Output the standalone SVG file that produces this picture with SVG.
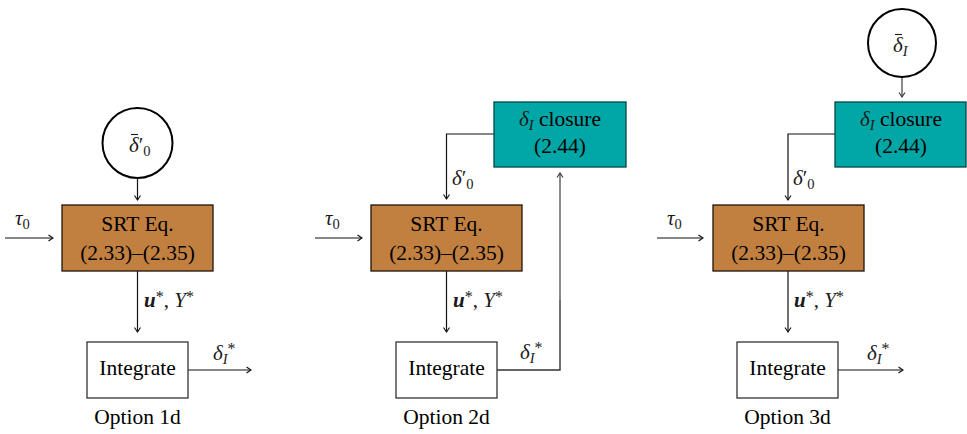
<svg xmlns="http://www.w3.org/2000/svg" width="967" height="434" viewBox="0 0 967 434">
  <style>
    .txt { font-family: "Liberation Serif", "Times New Roman", serif; font-size: 21.5px; fill: #000; }
    .mi { font-family: "Liberation Serif", "Times New Roman", serif; font-style: italic; font-size: 21px; fill: #1a1a1a; }
    .sub { font-size: 14.5px; }
    .star { font-size: 16px; font-style: normal; }
    .up { font-style: normal; }
    .bi { font-weight: bold; font-style: italic; }
    .srt { fill: #C28040; stroke: #1e1408; stroke-width: 1.3; }
    .clo { fill: #00A7A6; stroke: #004848; stroke-width: 1.3; }
    .int { fill: #fff; stroke: #333; stroke-width: 1.3; }
    .src { fill: #fff; stroke: #000; stroke-width: 2; }
    .bar { stroke: #1a1a1a; stroke-width: 1.1; }
    .ln { fill: none; stroke: #111; stroke-width: 1.2; marker-end: url(#ah); }
    .lk { fill: none; stroke: #333; stroke-width: 1.4; }
    .lga { fill: none; stroke: #6e6e6e; stroke-width: 1.6; marker-end: url(#ahg); }
  </style>
  <defs>
    <marker id="ah" viewBox="0 0 8 8" refX="6" refY="4" markerWidth="8" markerHeight="8" markerUnits="userSpaceOnUse" orient="auto">
      <path d="M1.5,1 L6,4 L1.5,7" fill="none" stroke="#111" stroke-width="1.1"/>
    </marker>
    <marker id="ahg" viewBox="0 0 8 8" refX="6" refY="4" markerWidth="8" markerHeight="8" markerUnits="userSpaceOnUse" orient="auto">
      <path d="M1.5,1 L6,4 L1.5,7" fill="none" stroke="#333" stroke-width="1.1"/>
    </marker>
  </defs>

  <!-- connectors -->
  <g id="connectors">
    <!-- option 1d -->
    <line class="ln" x1="137.5" y1="178" x2="137.5" y2="200"/>
    <line class="ln" x1="5" y1="238" x2="53" y2="238"/>
    <line class="ln" x1="137.5" y1="271" x2="137.5" y2="332"/>
    <line class="ln" x1="188" y1="370" x2="251" y2="370"/>
    <!-- option 2d -->
    <polyline class="ln" points="494,134 446.5,134 446.5,199"/>
    <line class="ln" x1="315" y1="238" x2="362" y2="238"/>
    <line class="ln" x1="446.5" y1="271" x2="446.5" y2="332"/>
    <polyline class="lk" points="497,370 560,370 560,300"/>
    <line class="lga" x1="560" y1="300" x2="560" y2="173"/>
    <!-- option 3d -->
    <line class="lga" x1="902" y1="77" x2="902" y2="97"/>
    <polyline class="ln" points="835,134 788,134 788,200"/>
    <line class="ln" x1="657" y1="238" x2="703" y2="238"/>
    <line class="ln" x1="788" y1="271" x2="788" y2="332"/>
    <line class="ln" x1="838" y1="370" x2="903" y2="370"/>
  </g>

  <!-- connector labels -->
  <g id="labels">
    <!-- tau_0 -->
    <text class="mi" x="15" y="224.5" font-size="22">τ<tspan class="sub up" dy="4">0</tspan></text>
    <text class="mi" x="325" y="224.5" font-size="22">τ<tspan class="sub up" dy="4">0</tspan></text>
    <text class="mi" x="667" y="224.5" font-size="22">τ<tspan class="sub up" dy="4">0</tspan></text>
    <!-- u*, Y* -->
    <text class="mi" x="144" y="307"><tspan class="bi">u</tspan><tspan class="star" dy="-5">*</tspan><tspan class="up" dy="5">, </tspan>Y<tspan class="star" dy="-5">*</tspan></text>
    <text class="mi" x="453" y="307"><tspan class="bi">u</tspan><tspan class="star" dy="-5">*</tspan><tspan class="up" dy="5">, </tspan>Y<tspan class="star" dy="-5">*</tspan></text>
    <text class="mi" x="794" y="307"><tspan class="bi">u</tspan><tspan class="star" dy="-5">*</tspan><tspan class="up" dy="5">, </tspan>Y<tspan class="star" dy="-5">*</tspan></text>
    <!-- delta_I^* -->
    <text class="mi" x="213" y="360">δ<tspan class="sub" dy="4">I</tspan><tspan class="star" dy="-10">*</tspan></text>
    <text class="mi" x="520" y="359">δ<tspan class="sub" dy="4">I</tspan><tspan class="star" dy="-10">*</tspan></text>
    <text class="mi" x="867" y="360">δ<tspan class="sub" dy="4">I</tspan><tspan class="star" dy="-10">*</tspan></text>
    <!-- delta'_0 -->
    <text class="mi" x="452" y="185">δ<tspan class="up">′</tspan><tspan class="sub up" dy="4">0</tspan></text>
    <text class="mi" x="793" y="185">δ<tspan class="up">′</tspan><tspan class="sub up" dy="4">0</tspan></text>
  </g>

  <!-- option 1d -->
  <g id="src-delta0">
    <circle class="src" cx="137.5" cy="143" r="35"/>
    <line class="bar" x1="131" y1="134.5" x2="138" y2="134.5"/>
    <text class="mi" x="129" y="152">δ<tspan class="up">′</tspan><tspan class="sub up" dy="4">0</tspan></text>
  </g>
  <g id="srt-1">
    <rect class="srt" x="62" y="205" width="151" height="66"/>
    <text class="txt" x="137.5" y="231" text-anchor="middle">SRT Eq.</text>
    <text class="txt" x="137.5" y="260" text-anchor="middle">(2.33)–(2.35)</text>
  </g>
  <g id="integrate-1">
    <rect class="int" x="87" y="342" width="101" height="56"/>
    <text class="txt" x="137.5" y="375" text-anchor="middle">Integrate</text>
  </g>
  <text class="txt" x="137.5" y="424" text-anchor="middle">Option 1d</text>

  <!-- option 2d -->
  <g id="closure-2">
    <rect class="clo" x="494" y="102" width="132" height="65"/>
    <text class="txt" x="560" y="126" text-anchor="middle"><tspan class="mi">δ</tspan><tspan class="mi sub" dy="4">I</tspan><tspan dy="-4"> closure</tspan></text>
    <text class="txt" x="560" y="153" text-anchor="middle">(2.44)</text>
  </g>
  <g id="srt-2">
    <rect class="srt" x="371" y="205" width="151" height="66"/>
    <text class="txt" x="446.5" y="231" text-anchor="middle">SRT Eq.</text>
    <text class="txt" x="446.5" y="260" text-anchor="middle">(2.33)–(2.35)</text>
  </g>
  <g id="integrate-2">
    <rect class="int" x="396" y="342" width="101" height="56"/>
    <text class="txt" x="446.5" y="375" text-anchor="middle">Integrate</text>
  </g>
  <text class="txt" x="446.5" y="424" text-anchor="middle">Option 2d</text>

  <!-- option 3d -->
  <g id="src-deltaI">
    <circle class="src" cx="902" cy="43" r="34"/>
    <line class="bar" x1="895" y1="34.5" x2="902" y2="34.5"/>
    <text class="mi" x="893" y="52">δ<tspan class="sub" dy="4">I</tspan></text>
  </g>
  <g id="closure-3">
    <rect class="clo" x="835" y="102" width="131" height="65"/>
    <text class="txt" x="901" y="126" text-anchor="middle"><tspan class="mi">δ</tspan><tspan class="mi sub" dy="4">I</tspan><tspan dy="-4"> closure</tspan></text>
    <text class="txt" x="901" y="153" text-anchor="middle">(2.44)</text>
  </g>
  <g id="srt-3">
    <rect class="srt" x="713" y="205" width="151" height="66"/>
    <text class="txt" x="788.5" y="231" text-anchor="middle">SRT Eq.</text>
    <text class="txt" x="788.5" y="260" text-anchor="middle">(2.33)–(2.35)</text>
  </g>
  <g id="integrate-3">
    <rect class="int" x="737" y="342" width="101" height="56"/>
    <text class="txt" x="787.5" y="375" text-anchor="middle">Integrate</text>
  </g>
  <text class="txt" x="787.5" y="424" text-anchor="middle">Option 3d</text>
</svg>
